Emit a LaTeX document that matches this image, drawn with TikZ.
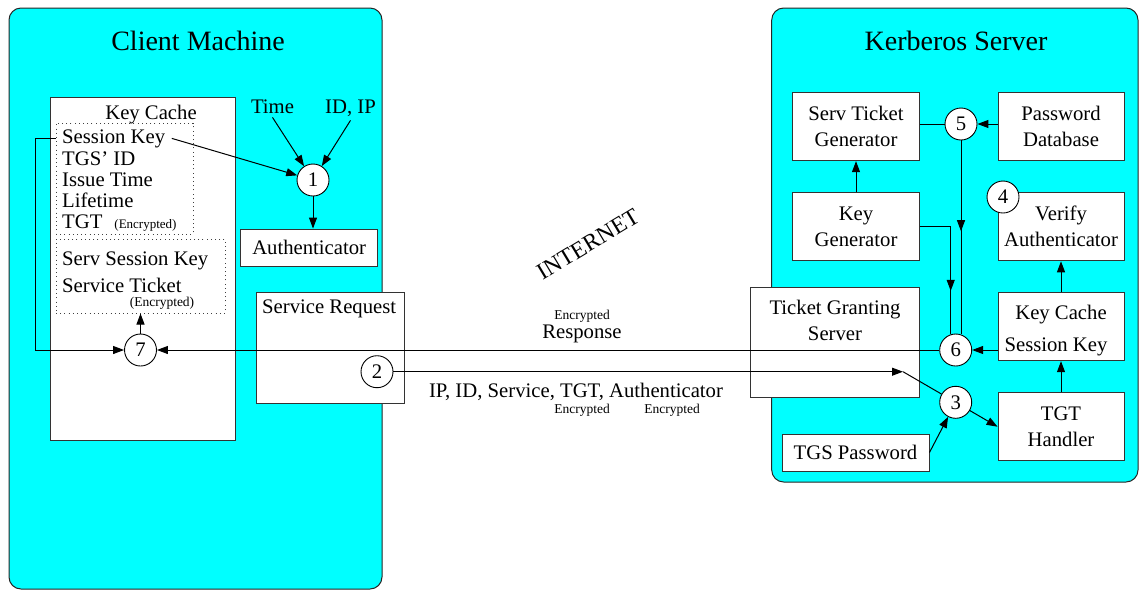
\documentclass[tikz,border=0pt]{standalone}
\usepackage{fontspec}
\setmainfont{Liberation Serif}
\usetikzlibrary{arrows.meta,decorations.markings}
\definecolor{aqua}{RGB}{0,255,255}
\begin{document}
\begin{tikzpicture}[x=1pt,y=-1pt,
  tri/.style={-{Triangle[length=11pt,width=8pt]}},
  midarrow/.style={postaction={decorate},decoration={markings,mark=at position #1 with {\arrow{Triangle[length=11pt,width=8pt]}}}},
  region/.style={draw=black!85,fill=aqua,line width=1pt,rounded corners=12pt,inner sep=0pt},
  box/.style={draw=black!80,fill=white,line width=0.9pt,align=center,inner sep=0pt,font=\fontsize{20.7}{26}\selectfont},
  dotbox/.style={draw=black!75,line width=1pt,dash pattern=on 1pt off 3.2pt,inner sep=0pt},
  circ/.style={circle,draw=black,fill=white,minimum size=32pt,inner sep=0pt,line width=0.9pt,font=\fontsize{20.7}{24}\selectfont},
  txt/.style={inner sep=0pt,font=\fontsize{20.7}{26}\selectfont},
  ttl/.style={inner sep=0pt,font=\fontsize{28}{32}\selectfont},
  sm/.style={inner sep=0pt,font=\fontsize{13.5}{15}\selectfont},
  line/.style={line width=1pt}]
\useasboundingbox (0,0) rectangle (1140,590);

% regions
\node[region,minimum width=373pt,minimum height=581pt] (client) at (195.5,298.5) {};
\node[region,minimum width=366.3pt,minimum height=474pt] (kerb) at (954.85,245) {};
\node[ttl,anchor=base] (clientT) at (198,50) {Client Machine};
\node[ttl,anchor=base] (kerbT) at (956,50) {Kerberos Server};

% client side
\node[box,minimum width=184.3pt,minimum height=342.3pt] (kcL) at (143,268.8) {};
\node[txt,anchor=base] (kcLT) at (151,119) {Key Cache};
\node[dotbox,minimum width=137pt,minimum height=111pt] (db1) at (124.5,178.5) {};
\node[dotbox,minimum width=169pt,minimum height=74pt] (db2) at (140.5,276) {};
\node[txt,anchor=base west,inner xsep=6.5pt] (sk) at (55.5,143) {Session Key};
\node[txt,anchor=base west] (tgsid) at (62,165) {TGS’ ID};
\node[txt,anchor=base west] (itime) at (62,186) {Issue Time};
\node[txt,anchor=base west] (life) at (62,207) {Lifetime};
\node[txt,anchor=base west] (tgt) at (62,228) {TGT\hspace{12pt}{\fontsize{13}{15}\selectfont (Encrypted)}};
\node[txt,anchor=base west] (ssk) at (62,265) {Serv Session Key};
\node[txt,anchor=base west] (st) at (62,292) {Service Ticket};
\node[sm,anchor=base] (stenc) at (162,306) {(Encrypted)};

\node[txt,anchor=base] (time) at (272.5,113) {Time};
\node[txt,anchor=base] (idip) at (350.5,113) {ID, IP};
\node[box,minimum width=137pt,minimum height=37pt] (auth) at (309.2,247.5) {Authenticator};
\node[box,minimum width=148pt,minimum height=110.3pt] (sreq) at (330,348) {};
\node[txt,anchor=base west] (sreqT) at (262,313) {Service Request};

% middle texts
\node[inner sep=0pt,font=\fontsize{23.5}{26}\selectfont,rotate=31] (inet) at (588,244) {INTERNET};
\node[sm,anchor=base] (encR) at (582,319) {Encrypted};
\node[txt,anchor=base] (resp) at (582,338) {Response};
\node[txt,anchor=base] (req) at (576,397) {IP, ID, Service, TGT, Authenticator};
\node[sm,anchor=base] (enc1) at (582,413) {Encrypted};
\node[sm,anchor=base] (enc2) at (672,413) {Encrypted};

% server side
\node[box,minimum width=126.6pt,minimum height=68pt] (stg) at (856,126.7) {Serv Ticket\\Generator};
\node[box,minimum width=126pt,minimum height=68pt] (pdb) at (1061,126.7) {Password\\Database};
\node[box,minimum width=126.6pt,minimum height=68pt] (kg) at (856,226.8) {Key\\Generator};
\node[box,minimum width=126pt,minimum height=68pt] (va) at (1061,226.8) {Verify\\Authenticator};
\node[box,minimum width=126pt,minimum height=68pt] (kc) at (1061,326.7) {};
\node[txt,anchor=base] (kcT1) at (1061,319) {Key Cache};
\node[txt,anchor=base] (kcT2) at (1056,351) {Session Key};
\node[box,minimum width=126pt,minimum height=68pt] (tgth) at (1061,426.7) {TGT\\Handler};
\node[box,minimum width=168.6pt,minimum height=110.7pt] (tgs) at (835,342.3) {};
\node[txt,anchor=base] (tgsT1) at (835,314) {Ticket Granting};
\node[txt,anchor=base] (tgsT2) at (835,340) {Server};
\node[box,minimum width=147pt,minimum height=37pt] (tgsp) at (855.5,452.5) {TGS Password};

% circles
\node[circ] (c1) at (313,180) {1};
\node[circ] (c2) at (377,371.7) {2};
\node[circ] (c3) at (955.7,402.3) {3};
\node[circ] (c4) at (1003,197) {4};
\node[circ] (c5) at (961,124) {5};
\node[circ] (c6) at (955.7,350) {6};
\node[circ] (c7) at (140.5,350) {7};

% connectors
\draw[line,tri] (sk.east) -- (c1);
\draw[line,tri] (sk.west) -- ++(-20.5,0) |- (c7);
\draw[line,tri] (c6) -- (c7);
\draw[line,tri] (c7) -- (c7 |- db2.south);
\draw[line,tri] ([yshift=-4pt]time.south) -- (c1);
\draw[line,tri] ([yshift=-4pt]idip.south) -- (c1);
\draw[line,tri] (c1) -- (c1 |- auth.north);
\coordinate (t2) at (903,371.7);
\draw[line,tri] (c2) -- (t2);
\draw[line] (t2) -- (c3);
\draw[line,tri] (c3) -- (tgth.west);
\draw[line,tri] (tgsp.east) -- (c3);
\draw[line,tri] (tgth) -- (kc);
\draw[line,tri] (kc) -- (va);
\draw[line,tri] (kc.west |- c6) -- (c6);
\draw[line,tri] (kg) -- (stg);
\draw[line] (stg.east |- c5) -- (c5);
\draw[line,tri] (pdb.west |- c5) -- (c5);
\draw[line,midarrow=0.47] (c5) -- (c5 |- c6.north);
\draw[line,midarrow=0.69] (kg.east) -| ([xshift=-5pt]c6.north);
\end{tikzpicture}
\end{document}
